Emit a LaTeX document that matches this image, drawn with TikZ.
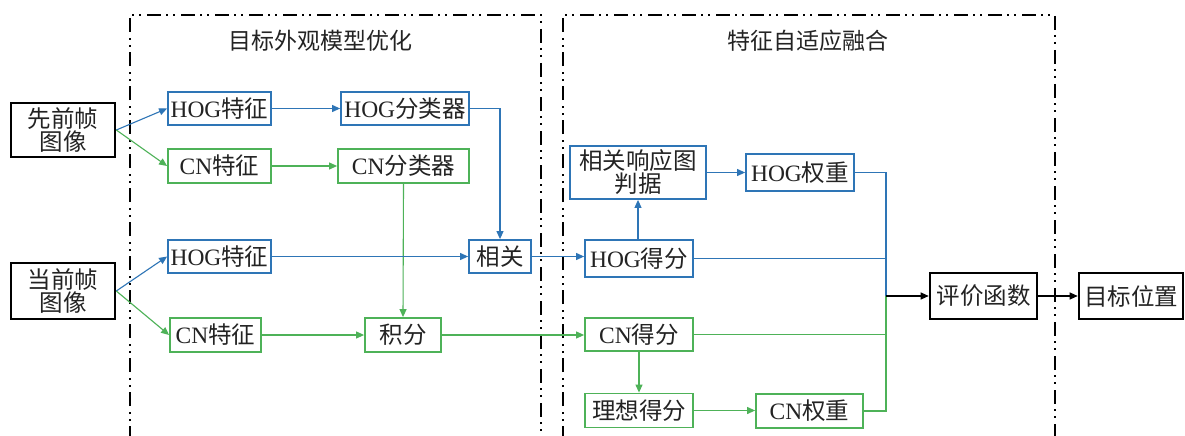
\documentclass[tikz,border=0pt]{standalone}
\usepackage{fontspec}
\setmainfont{Liberation Serif}
\newfontfamily\cjkfont{Noto Sans CJK SC}
\newcommand\zh[1]{{\cjkfont #1}}
\usetikzlibrary{arrows.meta}
\definecolor{hogblue}{RGB}{46,117,182}
\definecolor{cngreen}{RGB}{78,178,88}
\definecolor{txt}{RGB}{35,35,35}
\begin{document}
\begin{tikzpicture}[x=1pt,y=-1pt,
  box/.style={draw, line width=1.8pt, inner sep=0pt, align=center, text=txt,
    font=\fontsize{23.5}{26}\selectfont},
  bbox/.style={box, draw=hogblue},
  gbox/.style={box, draw=cngreen},
  kbox/.style={box, draw=black, line width=2.6pt},
  ln/.style={line width=1.1pt},
  tip/.style={-{Triangle[length=8pt,width=7pt]}},
  barr/.style={ln, draw=hogblue, tip},
  garr/.style={ln, draw=cngreen, tip},
  karr/.style={ln, draw=black, tip},
  bln/.style={ln, draw=hogblue},
  gln/.style={ln, draw=cngreen},
  dashbox/.style={line width=1.8pt, draw=black,
    dash pattern=on 14pt off 5pt on 2pt off 5pt on 2pt off 6pt},
  title/.style={font=\fontsize{23}{26}\selectfont, text=txt}
]
\useasboundingbox (0,0) rectangle (1185,436);
\fill[white] (0,0) rectangle (1185,436);

% frames
\draw[dashbox] (130,440) -- (130,15) -- (541,15) -- (541,440);
\draw[dashbox] (563,440) -- (563,15) -- (1055,15) -- (1055,440);
\node[title] (t1) at (320,41) {\zh{目标外观模型优化}};
\node[title] (t2) at (808,41) {\zh{特征自适应融合}};

% nodes
\node[kbox, minimum width=104pt, minimum height=54pt] (p1) at (63,130) {\zh{先前帧}\\[-3pt]\zh{图像}};
\node[kbox, minimum width=104pt, minimum height=56pt] (c1) at (63,291) {\zh{当前帧}\\[-3pt]\zh{图像}};
\node[bbox, minimum width=103pt, minimum height=33pt] (h1) at (219.5,108.5) {HOG\zh{特征}};
\node[bbox, minimum width=128pt, minimum height=33pt] (hc) at (405,108.5) {HOG\zh{分类器}};
\node[gbox, minimum width=103pt, minimum height=34pt] (n1) at (219.5,166) {CN\zh{特征}};
\node[gbox, minimum width=131pt, minimum height=34pt] (nc) at (403.5,166) {CN\zh{分类器}};
\node[bbox, minimum width=103pt, minimum height=33pt] (h2) at (219.5,256.5) {HOG\zh{特征}};
\node[bbox, minimum width=62pt, minimum height=33pt] (xg) at (500,256.5) {\zh{相关}};
\node[gbox, minimum width=91pt, minimum height=34pt] (n2) at (215.5,335) {CN\zh{特征}};
\node[gbox, minimum width=76pt, minimum height=34pt] (jf) at (403,335) {\zh{积分}};
\node[bbox, minimum width=136pt, minimum height=53pt] (xy) at (638,172.5) {\zh{相关响应图}\\[-3pt]\zh{判据}};
\node[bbox, minimum width=108pt, minimum height=37pt] (hw) at (800,172.5) {HOG\zh{权重}};
\node[bbox, minimum width=108pt, minimum height=37pt] (hs) at (639,258.5) {HOG\zh{得分}};
\node[gbox, minimum width=108pt, minimum height=33pt] (ns) at (639,334.5) {CN\zh{得分}};
\node[gbox, minimum width=108pt, minimum height=34pt] (lx) at (639,410.5) {\zh{理想得分}};
\node[gbox, minimum width=107pt, minimum height=34pt] (nw) at (809.5,411) {CN\zh{权重}};
\node[kbox, minimum width=107pt, minimum height=46pt] (pj) at (983.5,296) {\zh{评价函数}};
\node[kbox, minimum width=104pt, minimum height=46pt] (mb) at (1131,296) {\zh{目标位置}};
\coordinate (J) at (886,296);

% connectors
\draw[barr] (p1.east) -- (h1.west);
\draw[garr] (p1.east) -- (n1.west);
\draw[barr] (c1.east) -- (h2.west);
\draw[garr] (c1.east) -- (n2.west);
\draw[barr] (h1) -- (hc);
\draw[garr] (n1) -- (nc);
\draw[barr] (hc.east) -| (xg.north);
\draw[garr] (nc.south) -- (jf.north);
\draw[barr] (h2) -- (xg);
\draw[garr] (n2) -- (jf);
\draw[barr] (xg.east) -- (xg.east -| hs.west);
\draw[garr] (jf.east) -- (jf.east -| ns.west);
\draw[barr] (hs.north -| xy.south) -- (xy.south);
\draw[barr] (xy.east) -- (xy.east -| hw.west);
\draw[garr] (ns.south) -- (lx.north);
\draw[garr] (lx.east) -- (lx.east -| nw.west);
\draw[bln] (hw.east) -| (J);
\draw[bln] (hs.east) -| (J);
\draw[gln] (ns.east) -| (J);
\draw[gln] (nw.east) -| (J);
\draw[karr] (J) -- (pj.west);
\draw[karr] (pj.east) -- (mb.west);
\end{tikzpicture}
\end{document}
